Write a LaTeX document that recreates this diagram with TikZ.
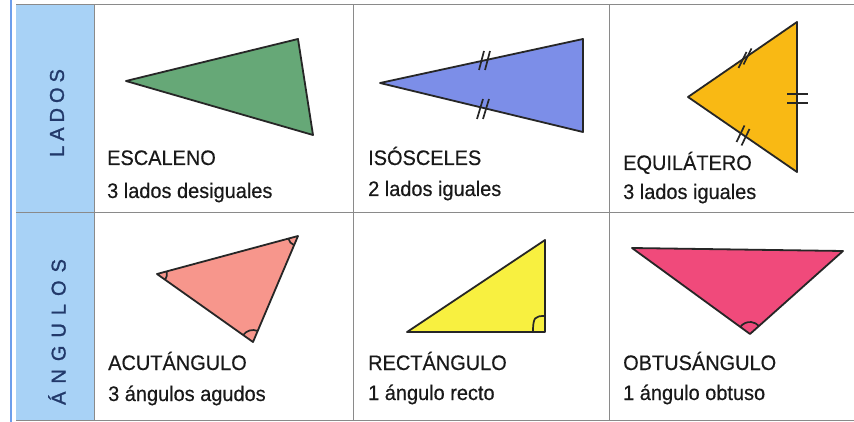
\documentclass[tikz,border=0pt]{standalone}
\usepackage{fontspec}
\setmainfont{Liberation Sans}
\definecolor{labelblue}{HTML}{A8D2F6}
\definecolor{leftblue}{HTML}{6D9EEB}
\definecolor{gridgray}{HTML}{8A8A8A}
\definecolor{labeltext}{HTML}{22396A}
\definecolor{escgreen}{HTML}{66A877}
\definecolor{isoblue}{HTML}{7C8EE8}
\definecolor{equiorange}{HTML}{F9B914}
\definecolor{acusalmon}{HTML}{F7968C}
\definecolor{rectyellow}{HTML}{F8F040}
\definecolor{obtpink}{HTML}{F04A7B}
\begin{document}
\begin{tikzpicture}[x=1pt,y=-1pt,
  gridline/.style={draw=gridgray, line width=1pt},
  tri/.style={draw=black!85, line width=1.8pt, line join=round},
  mk/.style={draw=black!85, line width=1.7pt},
  title/.style={anchor=base west, inner sep=0pt, font=\fontsize{21}{24}\selectfont\addfontfeatures{FakeStretch=0.95,FakeBold=0.4}, text=black!90},
  rowlabel/.style={rotate=90, inner sep=0pt, text=labeltext}]
\useasboundingbox (0,0) rectangle (854,422);
\fill[white] (0,0) rectangle (854,422);
\fill[labelblue] (16,5) rectangle (94,420);
\draw[leftblue, line width=1.2pt] (11,0) -- (11,422);
\draw[gridline] (16,5) -- (854,5);
\draw[gridline] (16,213) -- (854,213);
\draw[gridline] (16,420) -- (854,420);
\foreach \x in {94,353,609} \draw[gridline] (\x,5) -- (\x,420);

% row labels
\node[rowlabel, font=\fontsize{20}{22}\selectfont\addfontfeatures{LetterSpace=25,FakeBold=1.2}] (lados) at (57,113) {LADOS};
\node[rowlabel, font=\fontsize{20}{22}\selectfont\addfontfeatures{LetterSpace=40,FakeBold=1.2}] (angulos) at (57,332) {ÁNGULOS};

% escaleno
\filldraw[tri, fill=escgreen] (126,81) -- (298,39) -- (313,135) -- cycle;
% isosceles
\filldraw[tri, fill=isoblue] (380,83) -- (583,39) -- (583,132) -- cycle;
\draw[mk] (479,70) -- (484,51) (485,70) -- (490,51);
\draw[mk] (477,119) -- (483,99) (483,119) -- (489,99);
% equilatero
\filldraw[tri, fill=equiorange] (688,97) -- (797,22) -- (797,172) -- cycle;
\draw[mk] (738.5,68) -- (746.5,52) (743.5,64.5) -- (751.5,48.5);
\draw[mk] (736.5,142) -- (744.5,125.5) (741.5,145.5) -- (749.5,129);
\draw[mk] (787,94) -- (808,94) (787,103) -- (808,103);

% acutangulo
\coordinate (aA) at (157,274);
\coordinate (aB) at (298,236);
\coordinate (aC) at (253,342);
\filldraw[tri, fill=acusalmon] (aA) -- (aB) -- (aC) -- cycle;
\draw[mk] (aA) ++(-15.1:10) arc[start angle=-15.1, end angle=35.3, radius=10];
\draw[mk] (aB) ++(113:10) arc[start angle=113, end angle=164.9, radius=10];
\draw[mk] (aC) ++(215.3:12) arc[start angle=215.3, end angle=293, radius=12];

% rectangulo
\filldraw[tri, fill=rectyellow] (407,332) -- (545,240) -- (545,332) -- cycle;
\draw[mk] (533,332) .. controls (533,317) and (535,316) .. (545,316);

% obtusangulo
\coordinate (oV) at (750,334);
\filldraw[tri, fill=obtpink] (632,248) -- (843,251) -- (oV) -- cycle;
\draw[mk] (oV) ++(216.1:12) arc[start angle=216.1, end angle=318.3, radius=12];

% texts
\node[title] (t1a) at (107,165) {ESCALENO};
\node[title] (t1b) at (107,198) {3 lados desiguales};
\node[title] (t2a) at (368,165) {ISÓSCELES};
\node[title] (t2b) at (368,196) {2 lados iguales};
\node[title] (t3a) at (623,170) {EQUILÁTERO};
\node[title] (t3b) at (623,199) {3 lados iguales};
\node[title] (t4a) at (108,370) {ACUTÁNGULO};
\node[title] (t4b) at (108,401) {3 ángulos agudos};
\node[title] (t5a) at (368,370) {RECTÁNGULO};
\node[title] (t5b) at (368,400) {1 ángulo recto};
\node[title] (t6a) at (623,370) {OBTUSÁNGULO};
\node[title] (t6b) at (623,400) {1 ángulo obtuso};
\end{tikzpicture}
\end{document}
